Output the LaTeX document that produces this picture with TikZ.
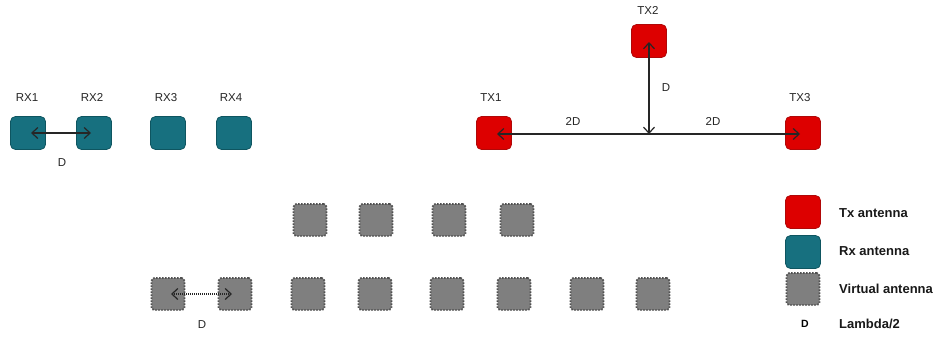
\documentclass[tikz,border=0pt]{standalone}
\usepackage{fontspec}
\setmainfont{Liberation Sans}
\usetikzlibrary{arrows.meta,calc}
\definecolor{txred}{HTML}{DD0000}
\definecolor{txredb}{HTML}{B00808}
\definecolor{rxteal}{HTML}{17707F}
\definecolor{rxtealb}{HTML}{0E5560}
\definecolor{vgray}{HTML}{7F7F7F}
\definecolor{vgrayb}{HTML}{505050}
\tikzset{
  ant/.style={minimum width=35pt,minimum height=33pt,rounded corners=5pt,inner sep=0pt},
  txbox/.style={ant,fill=txred,draw=txredb,line width=0.8pt},
  rxbox/.style={ant,fill=rxteal,draw=rxtealb,line width=0.8pt},
  vbox/.style={minimum width=33pt,minimum height=32pt,rounded corners=3pt,inner sep=0pt,fill=vgray,draw=vgrayb,line width=1.8pt,dash pattern=on 1.4pt off 1.6pt},
  lab/.style={font=\fontsize{11.5}{13}\selectfont,text=black!85,inner sep=0pt,text height=8.3pt,text depth=0pt},
  leg/.style={font=\bfseries\fontsize{13}{15}\selectfont,anchor=west,inner sep=0pt,text=black!90},
  barbs/.style={{Straight Barb[length=6pt,width=11pt,line width=1.2pt]}-{Straight Barb[length=6pt,width=11pt,line width=1.2pt]}},
  dim/.style={barbs,line width=1.2pt,black!85},
}
\begin{document}
\begin{tikzpicture}[x=1pt,y=-1pt]
\useasboundingbox[fill=white] (0,0) rectangle (952,341);
% Rx antennas
\node[rxbox] (rx1) at (28,133) {};
\node[rxbox] (rx2) at (94,133) {};
\node[rxbox] (rx3) at (168,133) {};
\node[rxbox] (rx4) at (234,133) {};
\node[lab] (lrx1) at (27,97) {RX1};
\node[lab] (lrx2) at (92,97) {RX2};
\node[lab] (lrx3) at (166,97) {RX3};
\node[lab] (lrx4) at (231,97) {RX4};
\draw[dim] ($(rx1.center)+(3,0)$) -- ($(rx2.center)+(-3,0)$);
\node[lab] (dr) at (62,162) {D};
% Tx antennas
\node[txbox] (tx1) at (494,133) {};
\node[txbox] (tx2) at (649,41) {};
\node[txbox] (tx3) at (803,133) {};
\node[lab] (ltx1) at (491,97) {TX1};
\node[lab] (ltx2) at (648,10) {TX2};
\node[lab] (ltx3) at (800,97) {TX3};
\coordinate (mid) at (649,134);
\draw[dim] ($(tx1.center)+(3,1)$) -- ($(tx3.center)+(-3,1)$);
\draw[dim] ($(tx2.center)+(0,1)$) -- (mid);
\node[lab] (l2da) at (573,121) {2D};
\node[lab] (l2db) at (713,121) {2D};
\node[lab] (ldt) at (666,87) {D};
% Virtual antennas
\foreach \x [count=\i] in {310,376,449,517} \node[vbox] (vt\i) at (\x,220) {};
\foreach \x [count=\i] in {168,235,308,375,447,514,587,653} \node[vbox] (vb\i) at (\x,294) {};
\draw[barbs,line width=1.1pt,black!85,dash pattern=on 1pt off 1pt] ($(vb1.center)+(3,0)$) -- ($(vb2.center)+(-3,0)$);
\node[lab] (dv) at (202,324) {D};
% Legend
\node[txbox] (ltx) at (803,212) {};
\node[rxbox] (lrx) at (803,252) {};
\node[vbox] (lv) at (803,289) {};
\node[font=\bfseries\fontsize{10.5}{12}\selectfont,inner sep=0pt] (ld) at (805,324) {D};
\node[leg] (t1) at (839,213) {Tx antenna};
\node[leg] (t2) at (839,251) {Rx antenna};
\node[leg] (t3) at (839,289) {Virtual antenna};
\node[leg] (t4) at (839,324) {Lambda/2};
\end{tikzpicture}
\end{document}
